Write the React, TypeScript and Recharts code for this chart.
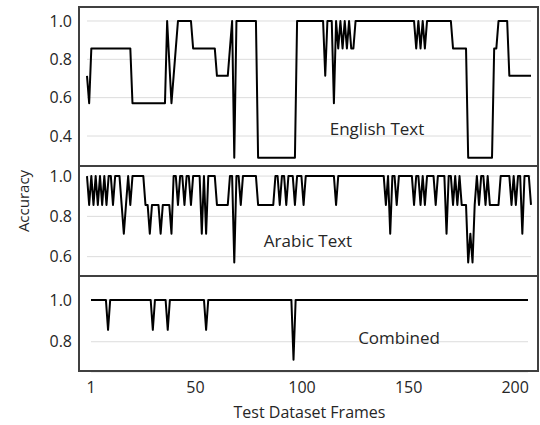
import React from "react";
import { LineChart, Line, XAxis, YAxis, CartesianGrid } from "recharts";

// accuracy per test frame
const english = [
    0.714, 0.571, 0.857, 0.857, 0.857, 0.857, 0.857, 0.857, 0.857, 0.857,
    0.857, 0.857, 0.857, 0.857, 0.857, 0.857, 0.857, 0.857, 0.857, 0.857,
    0.857, 0.571, 0.571, 0.571, 0.571, 0.571, 0.571, 0.571, 0.571, 0.571,
    0.571, 0.571, 0.571, 0.571, 0.571, 0.571, 0.571, 1, 0.786, 0.571,
    0.714, 0.857, 1, 1, 1, 1, 1, 1, 1, 0.857,
    0.857, 0.857, 0.857, 0.857, 0.857, 0.857, 0.857, 0.857, 0.857, 0.857,
    0.714, 0.714, 0.714, 0.714, 0.714, 0.714, 0.857, 1, 0.286, 1,
    1, 1, 1, 1, 1, 1, 1, 1, 1, 0.286,
    0.286, 0.286, 0.286, 0.286, 0.286, 0.286, 0.286, 0.286, 0.286, 0.286,
    0.286, 0.286, 0.286, 0.286, 0.286, 0.286, 0.286, 1, 1, 1,
    1, 1, 1, 1, 1, 1, 1, 1, 1, 1,
    0.714, 1, 1, 1, 0.571, 1, 0.857, 1, 0.857, 1,
    0.857, 1, 0.857, 0.857, 1, 1, 1, 1, 1, 1,
    1, 1, 1, 1, 1, 1, 1, 1, 1, 1,
    1, 1, 1, 1, 1, 1, 1, 1, 1, 1,
    1, 1, 0.857, 1, 0.857, 1, 0.857, 1, 1, 1,
    1, 1, 1, 1, 1, 1, 1, 1, 1, 0.857,
    0.857, 0.857, 0.857, 0.857, 0.857, 0.857, 0.286, 0.286, 0.286, 0.286,
    0.286, 0.286, 0.286, 0.286, 0.286, 0.286, 0.286, 0.286, 0.857, 0.857,
    1, 1, 1, 1, 1, 0.714, 0.714, 0.714, 0.714, 0.714,
    0.714, 0.714, 0.714, 0.714, 0.714, 0.714,
];

const arabic = [
    1, 0.857, 1, 0.857, 1, 0.857, 1, 0.857, 1, 0.857,
    1, 1, 0.857, 1, 1, 1, 0.857, 0.714, 0.857, 1,
    0.857, 1, 1, 1, 1, 1, 1, 0.857, 0.857, 0.714,
    0.857, 0.857, 0.857, 0.857, 0.714, 0.857, 0.857, 0.857, 0.857, 0.714,
    1, 1, 0.857, 1, 1, 0.857, 1, 1, 0.857, 1,
    1, 1, 1, 0.714, 1, 0.714, 1, 1, 1, 1,
    0.857, 0.857, 0.857, 0.857, 0.857, 0.857, 1, 1, 0.571, 1,
    1, 0.857, 1, 1, 1, 1, 1, 1, 1, 0.857,
    0.857, 0.857, 0.857, 0.857, 0.857, 0.857, 0.857, 1, 1, 0.857,
    1, 1, 0.857, 1, 1, 1, 0.857, 1, 1, 1,
    0.857, 1, 1, 1, 1, 1, 1, 1, 1, 1,
    1, 1, 1, 1, 1, 0.857, 1, 1, 1, 1,
    1, 1, 1, 1, 1, 1, 1, 1, 1, 1,
    1, 1, 1, 1, 1, 1, 1, 1, 0.857, 1,
    0.714, 1, 1, 0.857, 1, 1, 1, 1, 1, 1,
    1, 0.857, 1, 1, 0.857, 1, 0.857, 1, 1, 1,
    1, 0.857, 1, 1, 1, 1, 0.714, 1, 1, 0.857,
    1, 0.857, 1, 0.857, 0.857, 0.857, 0.571, 0.714, 0.571, 0.857,
    1, 0.857, 1, 1, 0.857, 1, 0.857, 0.857, 0.857, 0.857,
    0.857, 1, 1, 1, 1, 1, 0.857, 1, 0.857, 1,
    1, 0.714, 1, 1, 1, 0.857,
];

const combined = [
    1, 1, 1, 1, 1, 1, 1, 1, 0.857, 1,
    1, 1, 1, 1, 1, 1, 1, 1, 1, 1,
    1, 1, 1, 1, 1, 1, 1, 1, 1, 0.857,
    1, 1, 1, 1, 1, 1, 0.857, 1, 1, 1,
    1, 1, 1, 1, 1, 1, 1, 1, 1, 1,
    1, 1, 1, 1, 0.857, 1, 1, 1, 1, 1,
    1, 1, 1, 1, 1, 1, 1, 1, 1, 1,
    1, 1, 1, 1, 1, 1, 1, 1, 1, 1,
    1, 1, 1, 1, 1, 1, 1, 1, 1, 1,
    1, 1, 1, 1, 1, 0.714, 1, 1, 1, 1,
    1, 1, 1, 1, 1, 1, 1, 1, 1, 1,
    1, 1, 1, 1, 1, 1, 1, 1, 1, 1,
    1, 1, 1, 1, 1, 1, 1, 1, 1, 1,
    1, 1, 1, 1, 1, 1, 1, 1, 1, 1,
    1, 1, 1, 1, 1, 1, 1, 1, 1, 1,
    1, 1, 1, 1, 1, 1, 1, 1, 1, 1,
    1, 1, 1, 1, 1, 1, 1, 1, 1, 1,
    1, 1, 1, 1, 1, 1, 1, 1, 1, 1,
    1, 1, 1, 1, 1, 1, 1, 1, 1, 1,
    1, 1, 1, 1, 1, 1, 1, 1, 1, 1,
    1, 1, 1, 1, 1, 1,
];

const xTicks = [1, 50, 100, 150, 200];
const englishTicks = [0.4, 0.6, 0.8, 1.0];
const arabicTicks = [0.6, 0.8, 1.0];
const combinedTicks = [0.8, 1.0];

const data = english.map((v, i) => ({
    frame: i + 1,
    english: v,
    arabic: arabic[i],
    combined: combined[i],
}));

const FONT = "'Open Sans', 'DejaVu Sans', sans-serif";
const TEXT = "#262626";
const FRAME = "#404040";
const lastFrame = data.length;

const tickStyle = { fontSize: 16, fill: TEXT, fontFamily: FONT };

interface PanelProps {
    top: number;
    height: number;
    dataKey: string;
    domain: [number, number];
    ticks: number[];
    showX?: boolean;
    yWidth: number;
    right: number;
}

const Panel: React.FC<PanelProps> = ({ top, height, dataKey, domain, ticks, showX, yWidth, right }) => (
    <div style={{ position: "absolute", left: 0, top }}>
        <LineChart width={540} height={height} data={data} margin={{ top: 0, right, bottom: 0, left: 0 }}>
            <CartesianGrid horizontal vertical={false} stroke="#dcdcdc" />
            <XAxis
                type="number"
                dataKey="frame"
                domain={[1, lastFrame]}
                ticks={xTicks}
                hide={!showX}
                height={showX ? 50 : 0}
                tickLine={false}
                axisLine={false}
                tickMargin={4}
                tick={tickStyle}
                label={showX ? { value: "Test Dataset Frames", position: "insideBottom", offset: 4, style: { fontSize: 16, fill: TEXT, fontFamily: FONT } } : undefined}
            />
            <YAxis
                type="number"
                domain={domain}
                ticks={ticks}
                width={yWidth}
                allowDataOverflow
                tickLine={false}
                axisLine={false}
                tickMargin={yWidth - 6 - 72}
                tick={tickStyle}
                tickFormatter={(v: number) => v.toFixed(1)}
            />
            <Line
                type="linear"
                dataKey={dataKey}
                stroke="#000"
                strokeWidth={2}
                strokeLinejoin="round"
                dot={false}
                isAnimationActive={false}
            />
        </LineChart>
    </div>
);

const note = (text: string, x: number, y: number) => (
    <div
        style={{
            position: "absolute",
            left: x,
            top: y,
            transform: "translate(-50%, -50%)",
            fontFamily: FONT,
            fontSize: 17,
            color: TEXT,
            whiteSpace: "nowrap",
            lineHeight: 1,
        }}
    >
        {text}
    </div>
);

export default function App() {
    return (
        <div style={{ position: "absolute", left: 0, top: 0, width: 540, height: 425, background: "#fff", overflow: "hidden" }}>
            <Panel top={7} height={159} dataKey="english" domain={[0.2435, 1.073]} ticks={englishTicks} yWidth={87} right={9} />
            <Panel top={166} height={110} dataKey="arabic" domain={[0.504, 1.05]} ticks={arabicTicks} yWidth={87} right={9} />
            <Panel top={276} height={146} dataKey="combined" domain={[0.655, 1.115]} ticks={combinedTicks} showX yWidth={91} right={12} />

            {/* panel frames */}
            <div style={{ position: "absolute", left: 78, top: 6, width: 461, height: 366, border: `2px solid ${FRAME}`, boxSizing: "border-box" }} />
            <div style={{ position: "absolute", left: 78, top: 165, width: 461, height: 2, background: FRAME }} />
            <div style={{ position: "absolute", left: 78, top: 275, width: 461, height: 2, background: FRAME }} />

            {note("English Text", 377, 128)}
            {note("Arabic Text", 308, 240)}
            {note("Combined", 399, 337)}

            <div
                style={{
                    position: "absolute",
                    left: 23,
                    top: 201,
                    transform: "translate(-50%, -50%) rotate(-90deg)",
                    fontFamily: FONT,
                    fontSize: 15,
                    color: TEXT,
                    whiteSpace: "nowrap",
                    lineHeight: 1,
                }}
            >
                Accuracy
            </div>
        </div>
    );
}
